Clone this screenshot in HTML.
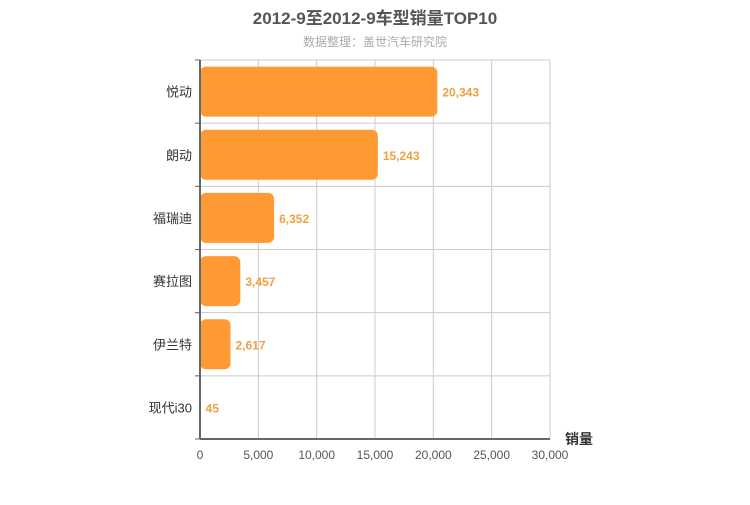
<!DOCTYPE html>
<html><head><meta charset="utf-8"><style>
body{margin:0;background:#fff;width:750px;height:500px;overflow:hidden;font-family:"Liberation Sans","Noto Sans CJK SC",sans-serif}
</style></head><body>
<svg id="c" width="750" height="500" xmlns="http://www.w3.org/2000/svg" font-family="Liberation Sans, Noto Sans CJK SC, sans-serif">
<text x="375" y="24" text-anchor="middle" font-size="17" font-weight="bold" fill="#555">2012-9至2012-9车型销量TOP10</text>
<text x="375" y="46" text-anchor="middle" font-size="12" fill="#aaa">数据整理：盖世汽车研究院</text>
<g id="g"></g>
</svg>
<script>
const categories=["悦动","朗动","福瑞迪","赛拉图","伊兰特","现代i30"];
const values=[20343,15243,6352,3457,2617,45];
const ticks=[0,5000,10000,15000,20000,25000,30000];
const X0=200,X1=550,Y0=60,Y1=439,MAX=30000;
const x=v=>X0+(X1-X0)*v/MAX;
const band=(Y1-Y0)/categories.length;
const g=document.getElementById('g');
const NS="http://www.w3.org/2000/svg";
function mk(t,a){const e=document.createElementNS(NS,t);for(const k in a)e.setAttribute(k,a[k]);g.appendChild(e);return e;}
ticks.forEach(t=>{
 const l=mk('line',{x1:x(t),x2:x(t),y1:Y0,y2:Y1,stroke:'#ccc'});
 
 
 const tx=mk('text',{x:x(t),y:Y1+20,'text-anchor':'middle','font-size':12,fill:'#555'});
 tx.textContent=t.toLocaleString('en-US');
 
 
});
for(let i=0;i<=categories.length;i++){
 const y=Y0+i*band;
 const l=mk('line',{x1:X0-5,x2:X1,y1:y,y2:y,stroke:'#ccc'});
 
 
 const tk=mk('line',{x1:X0-5,x2:X0,y1:y,y2:y,stroke:'#666'});
 
 
}
categories.forEach((c,i)=>{
 const yc=Y0+band*(i+0.5);
 const w=x(values[i])-X0;
 const r=mk('rect',{x:X0,y:yc-25,width:w,height:50,rx:Math.min(6,w/2),fill:'#ff9933'});
 
 
 const v=mk('text',{x:X0+w+5,y:yc+5,'font-size':12,'font-weight':'bold',fill:'#f0a040'});
 v.textContent=values[i].toLocaleString('en-US');
 
 
 const t=mk('text',{x:X0-8,y:yc+5,'text-anchor':'end','font-size':13,fill:'#333'});
 t.textContent=c;
 
 
});
const ax=mk('line',{x1:X0,x2:X1,y1:Y1,y2:Y1,stroke:'#666','stroke-width':2});


const ay=mk('line',{x1:X0,x2:X0,y1:Y0,y2:Y1,stroke:'#666','stroke-width':2});


const at=mk('text',{x:565,y:444,'font-size':14,'font-weight':'bold',fill:'#333'});
at.textContent='销量';


</script>
</body></html>
